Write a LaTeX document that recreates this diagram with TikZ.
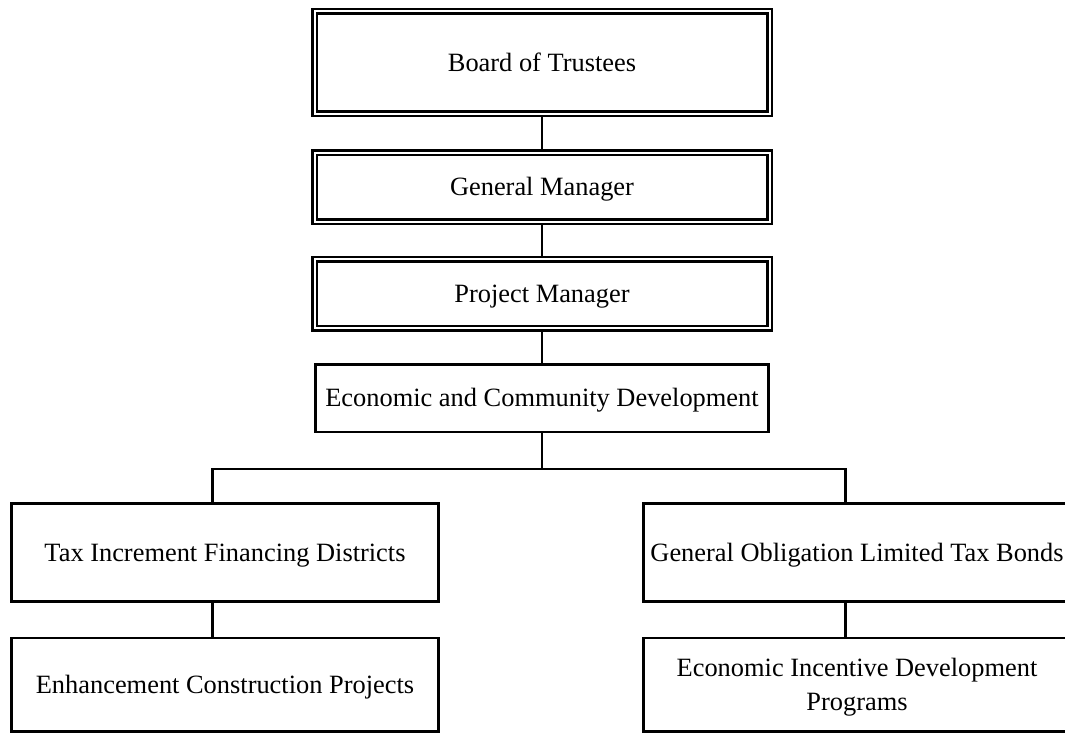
\documentclass[tikz,border=0pt]{standalone}
\usepackage{fontspec}
\setmainfont{Liberation Serif}
\begin{document}
\begin{tikzpicture}[x=1pt,y=-1pt,
  every node/.style={font=\fontsize{26.4}{34}\selectfont, inner sep=0pt},
  dbox/.style={draw, line width=2.5pt, double=white, double distance=2pt, outer sep=3.5pt, fill=white, minimum width=455pt, text height=17.5pt, text depth=0pt},
  sbox/.style={draw, line width=2.7pt, fill=white, text height=17.5pt, text depth=0pt},
  conn/.style={line width=2.7pt}]
\clip (0,0) rectangle (1065,735);
\fill[white] (0,0) rectangle (1065,735);
\node[dbox, minimum height=102.3pt] (board) at (542,62.65) {Board of Trustees};
\node[dbox, minimum height=68.7pt] (gm) at (542,187.2) {General Manager};
\node[dbox, minimum height=68.7pt] (pm) at (542,293.8) {Project Manager};
\node[sbox, minimum width=453.5pt, minimum height=67.5pt] (ecd) at (542,398.2) {Economic and Community Development};
\node[sbox, minimum width=427.4pt, minimum height=98.2pt] (tif) at (225,552.4) {Tax Increment Financing Districts};
\node[sbox, minimum width=427.4pt, minimum height=93.7pt] (ecp) at (225,684.85) {Enhancement Construction Projects};
\node[sbox, minimum width=427.4pt, minimum height=98.2pt] (gltb) at (857,552.4) {General Obligation Limited Tax Bonds};
\node[sbox, minimum width=427.4pt, minimum height=93.7pt, align=center, text height=51.5pt, text depth=0pt] (eidp) at (857,684.85) {Economic Incentive Development\\Programs};
\coordinate (bus) at (542,469);
\coordinate (bl) at (212.7,469);
\coordinate (br) at (845.7,469);
\draw[conn] (board.south) -- (gm.north);
\draw[conn] (gm.south) -- (pm.north);
\draw[conn] (pm.south) -- (ecd.north);
\draw[conn] (ecd.south) -- (bus);
\draw[conn] (tif.north -| bl) -- (bl) -- (br) -- (gltb.north -| br);
\draw[conn] (tif.south -| bl) -- (ecp.north -| bl);
\draw[conn] (gltb.south -| br) -- (eidp.north -| br);
\end{tikzpicture}
\end{document}
